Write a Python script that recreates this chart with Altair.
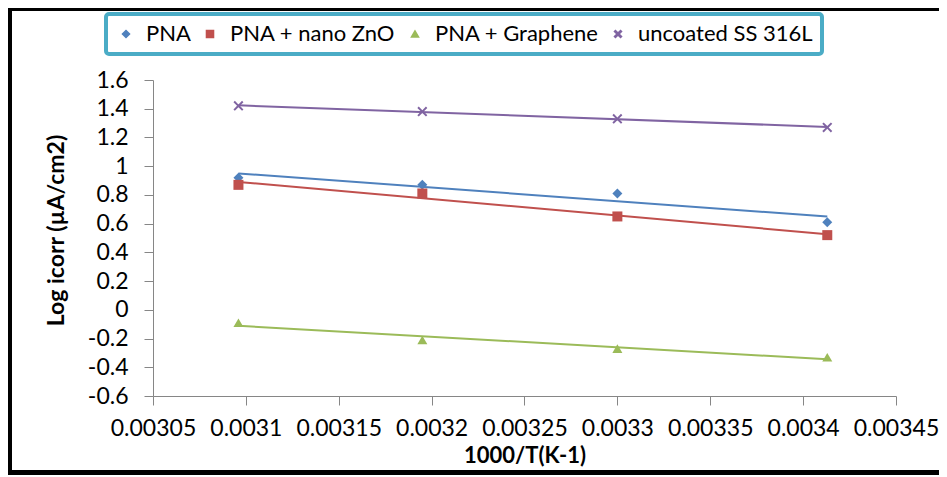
import altair as alt
import pandas as pd

# ---- data ----
inv_T = [0.003096, 0.003195, 0.0033, 0.003413]
pna = [0.92, 0.87, 0.81, 0.61]
pna_zno = [0.87, 0.81, 0.65, 0.52]
pna_graphene = [-0.09, -0.21, -0.27, -0.33]
uncoated = [1.42, 1.38, 1.33, 1.27]

series_names = ["PNA", "PNA + nano ZnO", "PNA + Graphene", "uncoated SS 316L"]
series_colors = ["#4F81BD", "#C0504D", "#9BBB59", "#8064A2"]
x_mark = ("M-1,-0.72L-0.72,-1L0,-0.28L0.72,-1L1,-0.72L0.28,0L1,0.72L0.72,1"
          "L0,0.28L-0.72,1L-1,0.72L-0.28,0Z")
series_shapes = ["diamond", "square", "triangle-up", x_mark]

x_ticks = [0.00305, 0.0031, 0.00315, 0.0032, 0.00325, 0.0033, 0.00335, 0.0034, 0.00345]
y_ticks = [-0.6, -0.4, -0.2, 0, 0.2, 0.4, 0.6, 0.8, 1, 1.2, 1.4, 1.6]

rows = []
for name, vals in zip(series_names, [pna, pna_zno, pna_graphene, uncoated]):
    for xv, yv in zip(inv_T, vals):
        rows.append({"series": name, "x": xv, "y": yv})
df = pd.DataFrame(rows)

FONT = "Lato"

color_scale = alt.Scale(domain=series_names, range=series_colors)
shape_scale = alt.Scale(domain=series_names, range=series_shapes)

xenc = alt.X(
    "x:Q",
    scale=alt.Scale(domain=[x_ticks[0], x_ticks[-1]], nice=False, zero=False),
    axis=alt.Axis(
        values=x_ticks,
        labelExpr="'' + round(datum.value * 100000) / 100000",
        labelOverlap=False,
        labelFlush=False,
        labelFontSize=23,
        title="1000/T(K-1)",
        titleFontSize=22,
        grid=False,
        labelPadding=12,
        titleY=66,
        titleBaseline="alphabetic",
    ),
)
yenc = alt.Y(
    "y:Q",
    scale=alt.Scale(domain=[y_ticks[0], y_ticks[-1]], nice=False, zero=False),
    axis=alt.Axis(
        values=y_ticks,
        labelExpr="'' + round(datum.value * 10) / 10",
        labelOverlap=False,
        labelFlush=False,
        labelFontSize=23,
        title="Log icorr (µA/cm2)",
        titleFontSize=23,
        grid=False,
        labelPadding=16,
        titleX=-85,
        titleY=150,
    ),
)

leg = alt.Legend(
    title=None,
    orient="none",
    legendX=-47,
    legendY=-66,
    direction="horizontal",
    padding=9,
    strokeColor="#4BACC6",
    fillColor="white",
    labelFont=FONT,
    labelFontSize=22,
    labelColor="black",
    labelLimit=400,
    symbolSize=50,
    columnPadding=8,
    labelOffset=9,
)

base = alt.Chart(df)

points = base.mark_point(filled=True, size=100, opacity=1).encode(
    x=xenc,
    y=yenc,
    color=alt.Color("series:N", scale=color_scale, legend=leg),
    shape=alt.Shape("series:N", scale=shape_scale, legend=leg),
)

lines = base.transform_regression("x", "y", groupby=["series"]).mark_line(
    strokeWidth=2
).encode(
    x=xenc,
    y=yenc,
    color=alt.Color("series:N", scale=color_scale, legend=None),
)

frame_src = alt.Data(values=[{"f": 1}])
frame_top = alt.Chart(frame_src).mark_rule(color="black", strokeWidth=5).encode(
    x=alt.value(-146), x2=alt.value(900), y=alt.value(-71.5)
)
frame_left = alt.Chart(frame_src).mark_rule(color="black", strokeWidth=5).encode(
    x=alt.value(-143.5), y=alt.value(-74), y2=alt.value(395)
)
frame_bottom = alt.Chart(frame_src).mark_rule(color="black", strokeWidth=5).encode(
    x=alt.value(-146), x2=alt.value(900), y=alt.value(392.5)
)

chart = alt.layer(points, lines, frame_top, frame_left, frame_bottom).properties(
    width=743,
    height=316,
    autosize=alt.AutoSizeParams(type="none"),
    padding={"left": 145, "top": 72, "right": 43, "bottom": 79},
    background="white",
).configure_view(
    strokeWidth=0
).configure_axis(
    labelFont=FONT,
    labelColor="black",
    titleFont=FONT,
    titleFontWeight="bold",
    titleColor="black",
    domainColor="#868686",
    tickColor="#868686",
    tickSize=9,
).configure_legend(
    strokeWidth=4,
    cornerRadius=3,
)

chart.save("out.html", embed_options={"renderer": "svg", "actions": False})
